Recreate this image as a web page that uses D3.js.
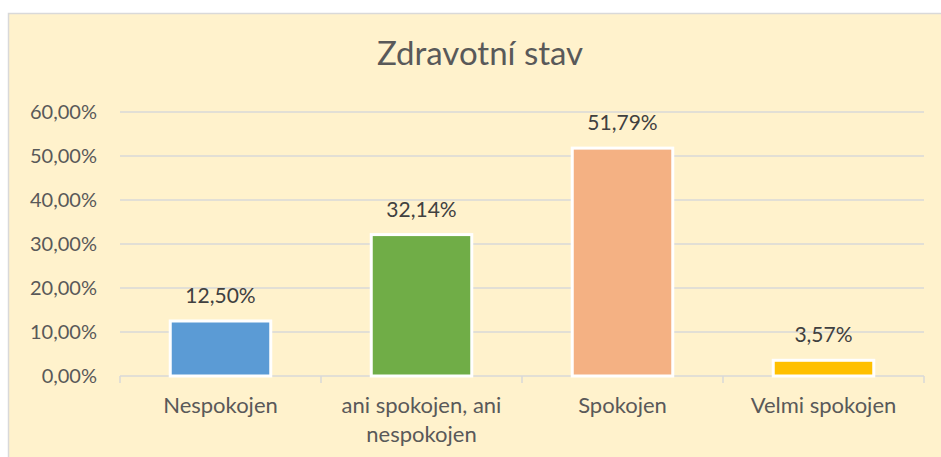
<!DOCTYPE html>
<meta charset="utf-8">
<script src="https://d3js.org/d3.v7.min.js"></script>
<style>
    body { margin: 0; background: #fff; }
    text { font-family: 'Lato', 'Noto Sans', sans-serif; }
</style>
<div id="chart"></div>
<script>
    // data
    let categories = ["Nespokojen", "ani spokojen, ani nespokojen", "Spokojen", "Velmi spokojen"];
    let categoryLines = [["Nespokojen"], ["ani spokojen, ani", "nespokojen"], ["Spokojen"], ["Velmi spokojen"]];
    let values = [12.50, 32.14, 51.79, 3.57];
    let barColors = ["#5B9BD5", "#70AD47", "#F4B183", "#FFC000"];
    let yTicks = [0, 10, 20, 30, 40, 50, 60];
    let title = "Zdravotní stav";

    let W = 941, H = 457;
    let margin = {top: 112, right: 17, bottom: 81, left: 120},
        width = W - margin.left - margin.right,
        height = H - margin.top - margin.bottom;

    let fmt = v => v.toFixed(2).replace(".", ",") + "%";

    let svg = d3.select("#chart")
        .append("svg")
        .attr("width", W)
        .attr("height", H);

    // chart area background and border
    svg.append("rect")
        .attr("x", 8.5).attr("y", 13.5)
        .attr("width", 960).attr("height", 470)
        .attr("fill", "#FFF2CC")
        .attr("stroke", "#D9D9D9")
        .attr("stroke-width", 1.5);

    svg.append("text")
        .attr("x", 480).attr("y", 65)
        .attr("text-anchor", "middle")
        .attr("fill", "#595959")
        .style("font-size", "33px")
        .text(title);

    let g = svg.append("g")
        .attr("transform", "translate(" + margin.left + "," + margin.top + ")");

    let x = d3.scaleBand()
        .domain(categories)
        .range([0, width])
        .paddingInner(0.5)
        .paddingOuter(0.25);

    let y = d3.scaleLinear()
        .domain([0, 60])
        .range([height, 0]);

    // gridlines
    g.selectAll(".grid")
        .data(yTicks)
        .enter().append("line")
        .attr("x1", 0).attr("x2", width)
        .attr("y1", d => y(d)).attr("y2", d => y(d))
        .attr("stroke", "#D9D9D9")
        .attr("stroke-width", 1.5);

    // y tick labels
    g.selectAll(".ylab")
        .data(yTicks)
        .enter().append("text")
        .attr("x", -23)
        .attr("y", d => y(d))
        .attr("dy", "0.35em")
        .attr("text-anchor", "end")
        .attr("fill", "#595959")
        .style("font-size", "20px")
        .text(d => fmt(d));

    // x axis tick marks at category edges
    g.selectAll(".xtick")
        .data(d3.range(categories.length + 1))
        .enter().append("line")
        .attr("x1", i => i * x.step()).attr("x2", i => i * x.step())
        .attr("y1", height).attr("y2", height + 7)
        .attr("stroke", "#D9D9D9")
        .attr("stroke-width", 1.5);

    // bars
    g.selectAll(".bar")
        .data(values)
        .enter().append("rect")
        .attr("x", (d, i) => x(categories[i]))
        .attr("y", d => y(d))
        .attr("width", x.bandwidth())
        .attr("height", d => height - y(d))
        .attr("fill", (d, i) => barColors[i])
        .attr("stroke", "#fff")
        .attr("stroke-width", 3);

    // data labels
    g.selectAll(".dlab")
        .data(values)
        .enter().append("text")
        .attr("x", (d, i) => x(categories[i]) + x.bandwidth() / 2)
        .attr("y", d => y(d) - 18)
        .attr("text-anchor", "middle")
        .attr("fill", "#404040")
        .style("font-size", "21px")
        .text(d => fmt(d));

    // category labels
    let cl = g.selectAll(".clab")
        .data(categoryLines)
        .enter().append("text")
        .attr("text-anchor", "middle")
        .attr("fill", "#595959")
        .style("font-size", "22px");
    cl.each(function (lines, i) {
        let t = d3.select(this);
        lines.forEach((ln, j) => {
            t.append("tspan")
                .attr("x", x(categories[i]) + x.bandwidth() / 2)
                .attr("y", height + 37 + j * 29)
                .text(ln);
        });
    });
</script>
